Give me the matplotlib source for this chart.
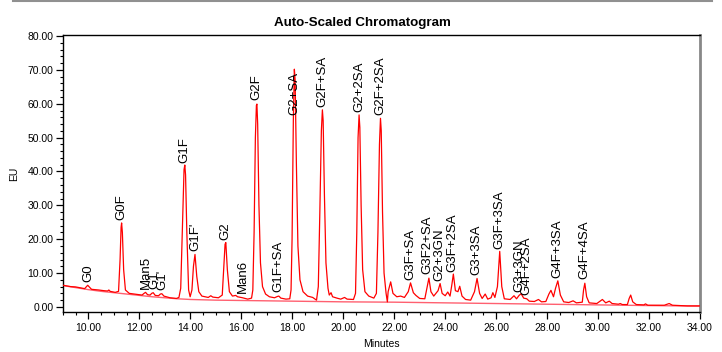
import matplotlib
matplotlib.use("Agg")
import matplotlib.pyplot as plt
from matplotlib.ticker import MultipleLocator, FormatStrFormatter
from matplotlib.lines import Line2D

plt.rcParams['font.family'] = ['Liberation Sans', 'DejaVu Sans']

# ---- data ----
trace_t = [9.00, 9.30, 9.50, 9.70, 9.85, 9.92, 9.97, 10.03, 10.12, 10.40, 10.60, 10.75, 10.80, 10.85,
           11.05, 11.18, 11.24, 11.28, 11.30, 11.33, 11.38, 11.45, 11.60, 11.90, 12.10, 12.18, 12.24,
           12.32, 12.42, 12.48, 12.54, 12.62, 12.75, 12.82, 12.88, 12.96, 13.20, 13.45, 13.55, 13.62,
           13.69, 13.75, 13.78, 13.81, 13.86, 13.93, 13.99, 14.06, 14.12, 14.18, 14.25, 14.33, 14.45,
           14.70, 14.80, 14.88, 15.10, 15.25, 15.31, 15.36, 15.39, 15.45, 15.53, 15.65, 15.78, 15.85,
           16.05, 16.25, 16.40, 16.45, 16.50, 16.55, 16.59, 16.61, 16.64, 16.69, 16.75, 16.83, 16.95,
           17.10, 17.30, 17.42, 17.47, 17.55, 17.75, 17.90, 17.95, 17.99, 18.04, 18.08, 18.11, 18.16,
           18.22, 18.30, 18.42, 18.60, 18.80, 18.95, 19.02, 19.08, 19.14, 19.18, 19.21, 19.26, 19.32,
           19.40, 19.45, 19.52, 19.58, 19.75, 19.90, 20.05, 20.15, 20.40, 20.48, 20.53, 20.58, 20.62,
           20.65, 20.70, 20.76, 20.85, 21.00, 21.20, 21.30, 21.36, 21.42, 21.46, 21.49, 21.54, 21.60,
           21.68, 21.73, 21.76, 21.86, 21.95, 22.10, 22.25, 22.40, 22.55, 22.64, 22.75, 22.85, 23.00,
           23.20, 23.28, 23.36, 23.44, 23.55, 23.72, 23.80, 23.88, 24.00, 24.10, 24.19, 24.26, 24.32,
           24.40, 24.50, 24.57, 24.66, 24.80, 25.00, 25.15, 25.25, 25.35, 25.45, 25.57, 25.67, 25.80,
           25.87, 25.95, 26.05, 26.14, 26.22, 26.32, 26.55, 26.70, 26.80, 26.90, 26.98, 27.08, 27.20,
           27.30, 27.50, 27.66, 27.78, 27.95, 28.07, 28.15, 28.25, 28.33, 28.42, 28.52, 28.65, 28.85,
           29.02, 29.15, 29.38, 29.43, 29.48, 29.55, 29.65, 29.95, 30.17, 30.30, 30.44, 30.55, 30.80,
           30.87, 30.95, 31.15, 31.22, 31.28, 31.36, 31.50, 31.80, 31.86, 31.95, 32.60, 32.79, 32.92,
           33.50, 34.00]
trace_v = [6.4, 6.0, 5.9, 5.6, 5.4, 6.0, 6.4, 5.9, 5.2, 5.0, 4.8, 4.7, 5.0, 4.6,
           4.3, 4.6, 14.0, 23.5, 24.8, 22.0, 11.0, 5.0, 4.0, 3.7, 3.5, 4.0, 4.3,
           3.6, 3.5, 4.0, 4.2, 3.4, 3.3, 3.8, 3.9, 3.2, 2.7, 2.5, 2.8, 5.5,
           25.0, 40.5, 41.9, 39.0, 22.0, 5.0, 3.0, 5.0, 12.0, 15.5, 9.0, 4.5, 3.2,
           2.8, 3.3, 2.9, 2.7, 3.5, 12.0, 18.5, 19.0, 11.0, 4.5, 3.2, 3.4, 3.0,
           2.7, 2.3, 2.6, 5.0, 22.0, 50.0, 59.5, 59.9, 54.0, 30.0, 13.0, 6.0, 3.8,
           3.0, 2.7, 3.1, 3.2, 2.6, 2.3, 2.4, 5.0, 20.0, 55.0, 70.2, 67.0, 42.0,
           18.0, 8.0, 4.5, 3.2, 2.8, 2.0, 6.0, 28.0, 52.0, 58.2, 55.0, 33.0, 13.0,
           5.5, 3.5, 4.2, 3.0, 2.6, 2.3, 2.8, 2.3, 2.2, 4.0, 22.0, 50.0, 56.7,
           53.0, 30.0, 11.0, 4.5, 3.2, 2.6, 4.0, 22.0, 48.0, 55.7, 52.0, 28.0, 10.0,
           4.0, 1.5, 4.5, 7.4, 4.0, 3.0, 3.2, 2.8, 4.5, 7.1, 4.2, 3.4, 2.5,
           2.4, 5.5, 8.5, 4.5, 3.2, 4.8, 6.9, 4.0, 3.3, 4.4, 3.2, 6.5, 9.7,
           4.8, 4.5, 6.1, 3.2, 2.2, 2.0, 4.5, 8.4, 4.0, 2.5, 3.8, 2.3, 2.7,
           4.2, 2.8, 6.0, 16.4, 6.0, 2.4, 2.2, 3.3, 2.4, 3.4, 3.9, 2.6, 2.4,
           1.7, 1.6, 2.2, 1.5, 1.6, 3.8, 4.9, 3.0, 5.5, 7.7, 3.5, 1.5, 1.3,
           1.8, 1.2, 1.4, 5.0, 7.0, 3.0, 1.2, 1.0, 2.2, 1.2, 1.7, 1.0, 0.8,
           1.0, 0.7, 0.7, 2.5, 3.5, 1.5, 0.7, 0.6, 0.9, 0.5, 0.5, 1.0, 0.5,
           0.3, 0.3]

baseline_t = [9.0, 9.5, 10.0, 10.5, 11.0, 11.5, 12.0, 12.5, 13.0, 13.5, 14.0, 15.0, 16.0, 17.0,
              18.0, 19.0, 20.0, 22.0, 24.0, 26.0, 28.0, 30.0, 32.0, 34.0]
baseline_v = [6.3, 5.7, 5.1, 4.6, 4.2, 3.8, 3.4, 3.0, 2.7, 2.4, 2.2, 2.0, 1.9, 1.8,
              1.7, 1.6, 1.5, 1.4, 1.2, 1.0, 0.8, 0.6, 0.4, 0.25]

peak_names = ['G0', 'G0F', 'Man5', 'G1', "G1'", 'G1F', "G1F'", 'G2', 'Man6', 'G2F', 'G1F+SA',
              'G2+SA', 'G2F+SA', 'G2+2SA', 'G2F+2SA', 'G3F+SA', 'G3F2+SA', 'G2+3GN', 'G3F+2SA',
              'G3+3SA', 'G3F+3SA', 'G3+3GN', 'G4F+2SA', 'G4F+3SA', 'G4F+4SA']
label_t = [10.01, 11.30, 12.24, 12.57, 12.90, 13.78, 14.18, 15.38, 16.04, 16.60, 17.47,
           18.09, 19.18, 20.62, 21.47, 22.62, 23.30, 23.79, 24.29,
           25.23, 26.12, 26.93, 27.17, 28.41, 29.46]
label_y = [7.4, 25.6, 5.4, 5.2, 4.9, 42.4, 16.5, 19.7, 4.0, 61.1, 4.5,
           56.7, 58.9, 57.7, 56.7, 7.9, 9.6, 7.6, 10.4,
           9.4, 17.0, 4.5, 3.5, 8.6, 8.2]

title = 'Auto-Scaled Chromatogram'
x_label = 'Minutes'
y_label = 'EU'

# ---- figure ----
fig = plt.figure(figsize=(7.22, 3.52), dpi=100)
ax = fig.add_axes([63 / 722, 40 / 352, 637 / 722, 277 / 352])

ax.plot(baseline_t, baseline_v, color='#ff6070', lw=1.0, zorder=2)
ax.plot(trace_t, trace_v, color='#ff0000', lw=0.9, zorder=3)

for name, t, y in zip(peak_names, label_t, label_y):
    ax.text(t, y, name, rotation=90, ha='center', va='bottom', fontsize=9.5,
            color='black', zorder=4)

ax.set_xlim(9, 34)
ax.set_ylim(-1.5, 80.3)
ax.xaxis.set_major_locator(MultipleLocator(2))
ax.xaxis.set_minor_locator(MultipleLocator(0.5))
ax.yaxis.set_major_locator(MultipleLocator(10))
ax.yaxis.set_minor_locator(MultipleLocator(2))
ax.xaxis.set_major_formatter(FormatStrFormatter('%.2f'))
ax.yaxis.set_major_formatter(FormatStrFormatter('%.2f'))
ax.tick_params(axis='both', which='major', labelsize=7.5, length=5, width=0.9, direction='out', pad=2)
ax.tick_params(axis='both', which='minor', length=2.5, width=0.8, direction='out')
ax.tick_params(axis='x', which='major', length=5, pad=3)

for s in ['left', 'bottom', 'top']:
    ax.spines[s].set_color('black')
    ax.spines[s].set_linewidth(1.0)
ax.spines['right'].set_color('#888888')
ax.spines['right'].set_linewidth(2.0)

ax.set_xlabel(x_label, fontsize=7.5, labelpad=4)
ax.set_ylabel(y_label, fontsize=7.5, labelpad=6)

fig.text(0.502, 0.936, title, ha='center', va='center', fontsize=9.6, fontweight='bold')

fig.add_artist(Line2D([13 / 722, 712 / 722], [0.998, 0.998], color='#909090', lw=1.5,
                      transform=fig.transFigure))

fig.savefig('out.png', dpi=100)
